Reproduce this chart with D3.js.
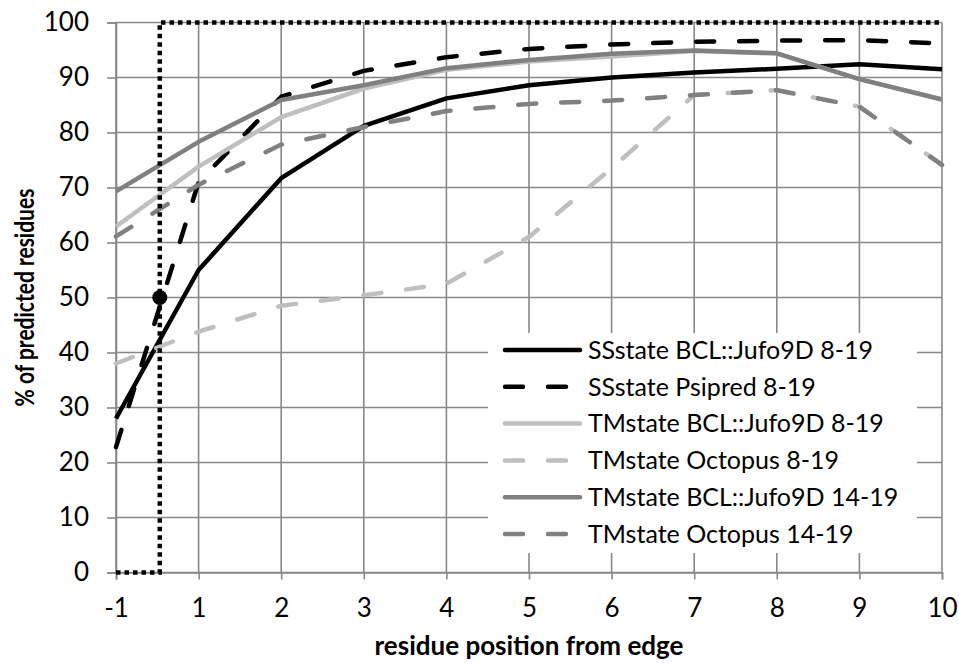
<!DOCTYPE html>
<html>
<head>
<meta charset="utf-8">
<script src="https://cdn.jsdelivr.net/npm/d3@7"></script>
<style>
  body { margin: 0; background: #fff; }
  text { font-family: Lato, "Open Sans", sans-serif; fill: #000; }
</style>
</head>
<body>
<div id="chart"></div>
<script>
// Categories on the x axis (there is no 0 position)
const positions = ["-1", "1", "2", "3", "4", "5", "6", "7", "8", "9", "10"]
const yTicks = [0, 10, 20, 30, 40, 50, 60, 70, 80, 90, 100]

// Series values, % of predicted residues
const ssJufo8 = [28.0, 55.0, 71.7, 81.2, 86.2, 88.6, 90.0, 90.9, 91.6, 92.4, 91.5]
const ssPsipred8 = [22.8, 71.0, 86.5, 91.2, 93.7, 95.2, 96.0, 96.5, 96.7, 96.8, 96.2]
const tmJufo8 = [62.9, 73.8, 82.8, 88.0, 91.4, 92.9, 93.8, 94.8, 94.4, 89.7, 86.0]
const tmOctopus8 = [38.0, 43.8, 48.5, 50.4, 52.5, 61.0, 73.5, 86.8, 87.7, 84.7, 74.1]
const tmJufo14 = [69.3, 78.3, 85.9, 88.6, 91.7, 93.2, 94.3, 94.9, 94.4, 89.7, 86.0]
const tmOctopus14 = [61.1, 70.5, 77.8, 81.0, 83.9, 85.2, 85.8, 86.8, 87.7, 84.7, 74.1]

const seriesNames = [
    "SSstate BCL::Jufo9D 8-19",
    "SSstate Psipred 8-19",
    "TMstate BCL::Jufo9D 8-19",
    "TMstate Octopus 8-19",
    "TMstate BCL::Jufo9D 14-19",
    "TMstate Octopus 14-19"
]
const seriesValues = [ssJufo8, ssPsipred8, tmJufo8, tmOctopus8, tmJufo14, tmOctopus14]
const seriesColors = ["#000000", "#000000", "#bfbfbf", "#bfbfbf", "#808080", "#808080"]
const seriesDashed = [false, true, false, true, false, true]

// Edge marker: dotted step (category index, value) and the point on it
const edgeStep = [[0, 0], [0.53, 0], [0.53, 100], [10, 100]]
const edgePoint = [0.53, 50]

const width = 959
const height = 664
const margin = {top: 22.5, right: 17, bottom: 91.5, left: 116}
const fontSize = "26px"

const svg = d3.select("#chart")
    .append("svg")
    .attr("width", width)
    .attr("height", height)

const x = d3.scaleLinear()
    .domain([0, positions.length - 1])
    .range([margin.left, width - margin.right])
const y = d3.scaleLinear()
    .domain([0, 100])
    .range([height - margin.bottom, margin.top])

const gridColor = "#888888"

// gridlines
svg.append("g")
    .selectAll("line")
    .data(yTicks)
    .join("line")
        .attr("x1", x(0))
        .attr("x2", x(positions.length - 1))
        .attr("y1", d => y(d))
        .attr("y2", d => y(d))
        .attr("stroke", gridColor)
        .attr("stroke-width", 1.6)
svg.append("g")
    .selectAll("line")
    .data(d3.range(positions.length))
    .join("line")
        .attr("x1", d => x(d))
        .attr("x2", d => x(d))
        .attr("y1", y(0))
        .attr("y2", y(100))
        .attr("stroke", gridColor)
        .attr("stroke-width", 1.6)

// axes
const yAxis = svg.append("g")
    .attr("transform", `translate(${x(0)},0)`)
    .call(d3.axisLeft(y).tickValues(yTicks).tickSize(9).tickPadding(18))
const xAxis = svg.append("g")
    .attr("transform", `translate(0,${y(0)})`)
    .call(d3.axisBottom(x).tickValues(d3.range(positions.length))
        .tickFormat(i => positions[i]).tickSize(7).tickPadding(19))
for (const ax of [xAxis, yAxis]) {
    ax.select(".domain").attr("stroke", gridColor).attr("stroke-width", 1.6)
    ax.selectAll(".tick line").attr("stroke", gridColor).attr("stroke-width", 1.6)
    ax.selectAll("text")
        .attr("fill", "#000")
        .style("font-size", fontSize)
        .style("font-family", "Lato, 'Open Sans', sans-serif")
}

// series lines
const line = d3.line()
    .x((d, i) => x(i))
    .y(d => y(d))

svg.append("g")
    .selectAll("path")
    .data(seriesValues)
    .join("path")
        .attr("d", d => line(d))
        .attr("fill", "none")
        .attr("stroke", (d, i) => seriesColors[i])
        .attr("stroke-width", 4.5)
        .attr("stroke-linejoin", "round")
        .attr("stroke-linecap", (d, i) => seriesDashed[i] ? "round" : "butt")
        .attr("stroke-dasharray", (d, i) => seriesDashed[i] ? "18,25" : null)

// dotted edge marker
svg.append("path")
    .attr("d", d3.line().x(d => x(d[0])).y(d => y(d[1]))(edgeStep))
    .attr("fill", "none")
    .attr("stroke", "#000")
    .attr("stroke-width", 4.5)
    .attr("stroke-dasharray", "4.5,4")
svg.append("circle")
    .attr("cx", x(edgePoint[0]))
    .attr("cy", y(edgePoint[1]))
    .attr("r", 7.5)
    .attr("fill", "#000")

// legend
const legend = svg.append("g")
legend.append("rect")
    .attr("x", 488)
    .attr("y", 333)
    .attr("width", 429)
    .attr("height", 220)
    .attr("fill", "#fff")

const items = legend.selectAll("g")
    .data(seriesNames)
    .join("g")
        .attr("transform", (d, i) => `translate(505,${350 + i * 36.8})`)
items.append("line")
    .attr("x1", 0)
    .attr("x2", 75)
    .attr("stroke", (d, i) => seriesColors[i])
    .attr("stroke-width", 4.5)
    .attr("stroke-linecap", "round")
    .attr("stroke-dasharray", (d, i) => seriesDashed[i] ? "18,25" : null)
items.append("text")
    .attr("x", 83)
    .attr("dy", "0.35em")
    .style("font-size", "25px")
    .text(d => d)

// axis titles
svg.append("text")
    .attr("x", (x(0) + x(positions.length - 1)) / 2)
    .attr("y", 655)
    .attr("text-anchor", "middle")
    .style("font-size", fontSize)
    .style("font-weight", "bold")
    .text("residue position from edge")
svg.append("text")
    .attr("transform", `translate(34,${(y(0) + y(100)) / 2}) scale(1.3,1) rotate(-90)`)
    .attr("text-anchor", "middle")
    .style("font-size", "21px")
    .style("font-weight", "bold")
    .text("% of predicted residues")
</script>
</body>
</html>
